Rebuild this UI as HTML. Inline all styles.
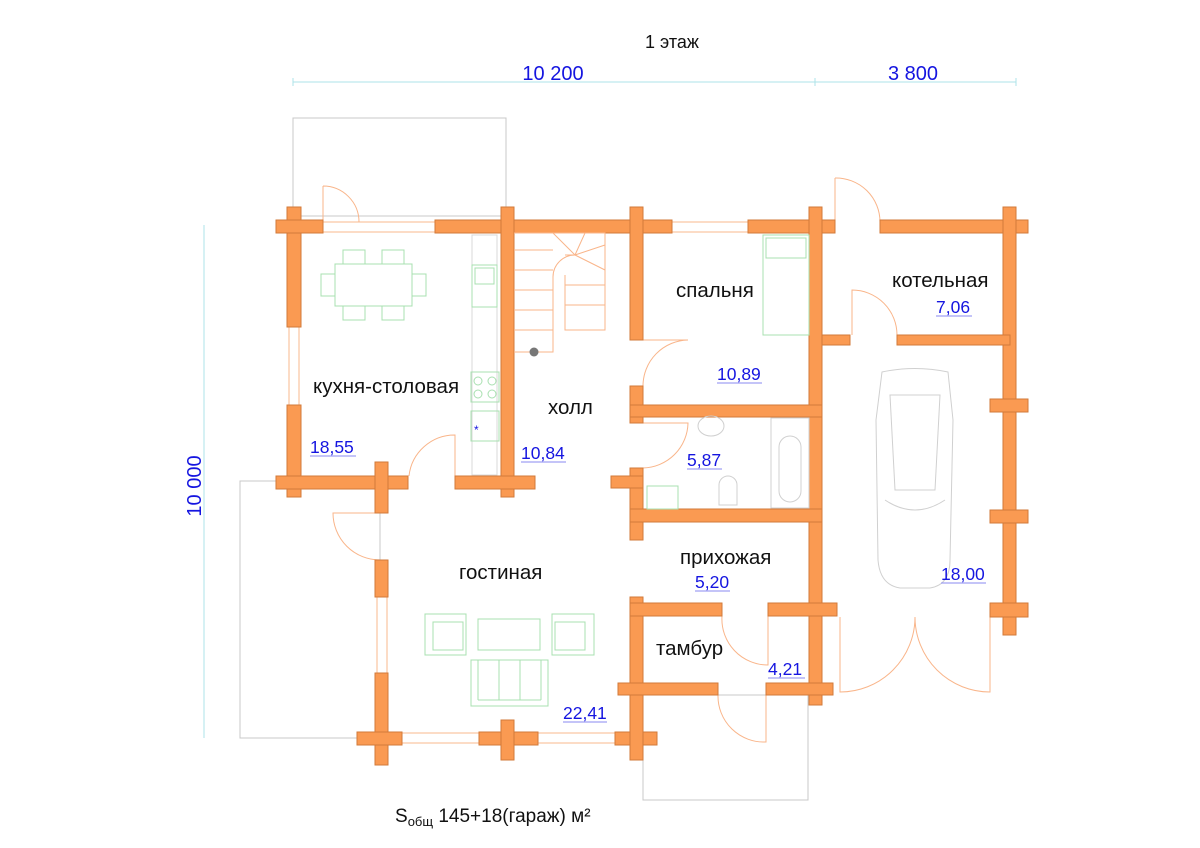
<!DOCTYPE html>
<html><head><meta charset="utf-8"><style>
html,body{margin:0;padding:0;background:#fff}
svg{display:block}
text{font-family:"Liberation Sans","Noto Sans CJK SC",sans-serif}
.w{fill:#FA9A52;stroke:#D27A3A;stroke-width:1}
.win{fill:#fff;stroke:#F8B88C;stroke-width:1}
.d{fill:none;stroke:#F9B58A;stroke-width:1}
.g{fill:none;stroke:#A8E0B0;stroke-width:1}
.o{fill:none;stroke:#C8C8C8;stroke-width:1}
.lbl{font-size:20.5px;fill:#111}
.num{font-size:17.5px;fill:#1515E0}
</style></head><body>
<svg width="1200" height="848" viewBox="0 0 1200 848" xmlns="http://www.w3.org/2000/svg">
<text x="672" y="48" font-size="18" text-anchor="middle" fill="#111">1 этаж</text>
<line x1="293" y1="82" x2="1016" y2="82" stroke="#AEE3E8"/>
<g stroke="#AEE3E8"><line x1="293" y1="78" x2="293" y2="86"/><line x1="815" y1="78" x2="815" y2="86"/><line x1="1016" y1="78" x2="1016" y2="86"/></g>
<text x="553" y="80" class="num" font-size="20" style="font-size:20px" text-anchor="middle">10 200</text>
<text x="913" y="80" class="num" style="font-size:20px" text-anchor="middle">3 800</text>
<line x1="204" y1="225" x2="204" y2="738" stroke="#AEE3E8"/>
<text transform="translate(201,486) rotate(-90)" class="num" style="font-size:20px" text-anchor="middle">10 000</text>
<rect x="293" y="118" width="213" height="98" class="o"/>
<rect x="240" y="481" width="140" height="257" class="o"/>
<rect x="643" y="695" width="165" height="105" class="o"/>
<rect x="323" y="222" width="112" height="10" class="win"/>
<rect x="672" y="222" width="76" height="10" class="win"/>
<rect x="289" y="327" width="10" height="78" class="win"/>
<rect x="377" y="597" width="10" height="76" class="win"/>
<rect x="402" y="733" width="77" height="10" class="win"/>
<rect x="538" y="733" width="77" height="10" class="win"/>
<path class="d" d="M323 222 V186 M323 186 A36 36 0 0 1 359 222"/>
<path class="d" d="M835 222 V178 M835 178 A44 44 0 0 1 880 222"/>
<path class="d" d="M455 476 V435 A46 46 0 0 0 409 476"/>
<path class="d" d="M643 340 H688 A46 46 0 0 0 643 386"/>
<path class="d" d="M643 423 H688 A46 46 0 0 1 643 468"/>
<path class="d" d="M852 335 V290 A45 45 0 0 1 897 335"/>
<path class="d" d="M380 513 H333 A47 47 0 0 0 380 560"/>
<path class="d" d="M768 616 V665 A46 46 0 0 1 722 616"/>
<path class="d" d="M766 695 V742 A46 46 0 0 1 718 695"/>
<path class="d" d="M840 617 V692 A75 75 0 0 0 915 617 M990 617 V692 A75 75 0 0 1 915 617"/>
<g class="w">
<rect x="287" y="207" width="14" height="120"/>
<rect x="287" y="405" width="14" height="92"/>
<rect x="276" y="220" width="47" height="13"/>
<rect x="435" y="220" width="237" height="13"/>
<rect x="748" y="220" width="87" height="13"/>
<rect x="880" y="220" width="148" height="13"/>
<rect x="501" y="207" width="13" height="290"/>
<rect x="630" y="207" width="13" height="133"/>
<rect x="809" y="207" width="13" height="498"/>
<rect x="1003" y="207" width="13" height="428"/>
<rect x="276" y="476" width="132" height="13"/>
<rect x="455" y="476" width="80" height="13"/>
<rect x="375" y="462" width="13" height="51"/>
<rect x="375" y="560" width="13" height="37"/>
<rect x="375" y="673" width="13" height="92"/>
<rect x="357" y="732" width="45" height="13"/>
<rect x="479" y="732" width="59" height="13"/>
<rect x="501" y="720" width="13" height="40"/>
<rect x="615" y="732" width="42" height="13"/>
<rect x="630" y="597" width="13" height="163"/>
<rect x="630" y="386" width="13" height="37"/>
<rect x="630" y="405" width="192" height="12"/>
<rect x="630" y="468" width="13" height="72"/>
<rect x="611" y="476" width="32" height="12"/>
<rect x="630" y="509" width="192" height="13"/>
<rect x="630" y="603" width="92" height="13"/>
<rect x="768" y="603" width="69" height="13"/>
<rect x="618" y="683" width="100" height="12"/>
<rect x="766" y="683" width="67" height="12"/>
<rect x="822" y="335" width="28" height="10"/>
<rect x="897" y="335" width="113" height="10"/>
<rect x="990" y="399" width="38" height="13"/>
<rect x="990" y="510" width="38" height="13"/>
<rect x="990" y="603" width="38" height="14"/>
</g>
<rect x="472" y="235" width="25" height="240" fill="none" stroke="#D8D8D8"/>
<rect x="472" y="265" width="25" height="42" class="g"/><rect x="475" y="268" width="19" height="16" class="g"/>
<rect x="471" y="372" width="28" height="30" class="g"/>
<circle cx="478" cy="381" r="4" class="g"/><circle cx="492" cy="381" r="4" class="g"/><circle cx="478" cy="394" r="4" class="g"/><circle cx="492" cy="394" r="4" class="g"/>
<rect x="471" y="411" width="28" height="30" class="g"/>
<text x="474" y="434" fill="#1515E0" font-size="12">*</text>
<rect x="335" y="264" width="77" height="42" class="g"/>
<rect x="343" y="250" width="22" height="14" class="g"/><rect x="382" y="250" width="22" height="14" class="g"/>
<rect x="343" y="306" width="22" height="14" class="g"/><rect x="382" y="306" width="22" height="14" class="g"/>
<rect x="321" y="274" width="14" height="22" class="g"/><rect x="412" y="274" width="14" height="22" class="g"/>
<g class="d">
<path d="M514 352 H553 V277 A22 22 0 0 1 575 255 H565 M514 233 H605 V330 H565 V275 M514 250 H553 M514 270 H553 M514 290 H553 M514 310 H553 M514 330 H553 M565 285 H605 M565 305 H605"/>
<path d="M575 255 L553 233 M575 255 L585 233 M575 255 L605 245 M575 255 L605 270"/>
</g>
<circle cx="534" cy="352" r="4.5" fill="#777"/>
<rect x="763" y="235" width="46" height="100" class="g"/><rect x="766" y="238" width="40" height="20" class="g"/>
<rect x="771" y="418" width="38" height="90" fill="none" stroke="#D0D0D0"/>
<rect x="779" y="436" width="22" height="66" rx="11" fill="none" stroke="#D0D0D0"/>
<ellipse cx="711" cy="426" rx="13" ry="10" fill="none" stroke="#D0D0D0"/>
<path d="M719 505 V485 A9 9 0 0 1 737 485 V505 Z" fill="none" stroke="#D0D0D0"/>
<rect x="647" y="486" width="31" height="23" class="g"/>
<rect x="425" y="614" width="41" height="41" class="g"/><rect x="433" y="622" width="30" height="28" class="g"/>
<rect x="478" y="619" width="62" height="31" class="g"/>
<rect x="552" y="614" width="42" height="41" class="g"/><rect x="555" y="622" width="30" height="28" class="g"/>
<rect x="471" y="660" width="77" height="46" class="g"/>
<line x1="478" y1="660" x2="478" y2="700" class="g"/><line x1="499" y1="660" x2="499" y2="700" class="g"/><line x1="520" y1="660" x2="520" y2="700" class="g"/><line x1="541" y1="660" x2="541" y2="700" class="g"/><line x1="478" y1="700" x2="541" y2="700" class="g"/>
<path d="M882 372 Q915 365 948 372 L953 420 L950 560 Q950 585 930 588 L900 588 Q880 585 878 560 L876 420 Z" fill="none" stroke="#D0D0D0"/>
<path d="M890 395 H940 L935 490 H895 Z M885 500 Q915 520 945 500" fill="none" stroke="#D0D0D0"/>
<text x="313" y="393" class="lbl">кухня-столовая</text>
<text x="548" y="414" class="lbl">холл</text>
<text x="676" y="297" class="lbl">спальня</text>
<text x="892" y="287" class="lbl">котельная</text>
<text x="459" y="579" class="lbl">гостиная</text>
<text x="680" y="564" class="lbl">прихожая</text>
<text x="656" y="655" class="lbl">тамбур</text>
<g class="num">
<text x="310" y="453">18,55</text>
<text x="521" y="459">10,84</text>
<text x="717" y="380">10,89</text>
<text x="936" y="313">7,06</text>
<text x="687" y="466">5,87</text>
<text x="695" y="588">5,20</text>
<text x="768" y="675">4,21</text>
<text x="563" y="719">22,41</text>
<text x="941" y="580">18,00</text>
</g>
<g stroke="#8A8AF0"><line x1="310" y1="456" x2="356" y2="456"/><line x1="521" y1="462" x2="566" y2="462"/><line x1="717" y1="383" x2="762" y2="383"/><line x1="936" y1="316" x2="972" y2="316"/><line x1="687" y1="469" x2="722" y2="469"/><line x1="695" y1="591" x2="730" y2="591"/><line x1="768" y1="678" x2="805" y2="678"/><line x1="563" y1="722" x2="607" y2="722"/><line x1="941" y1="583" x2="986" y2="583"/></g>
<text x="395" y="822" font-size="19" fill="#111">S<tspan font-size="13" dy="4">общ</tspan><tspan dy="-4"> 145+18(гараж) м²</tspan></text>
</svg>
</body></html>
